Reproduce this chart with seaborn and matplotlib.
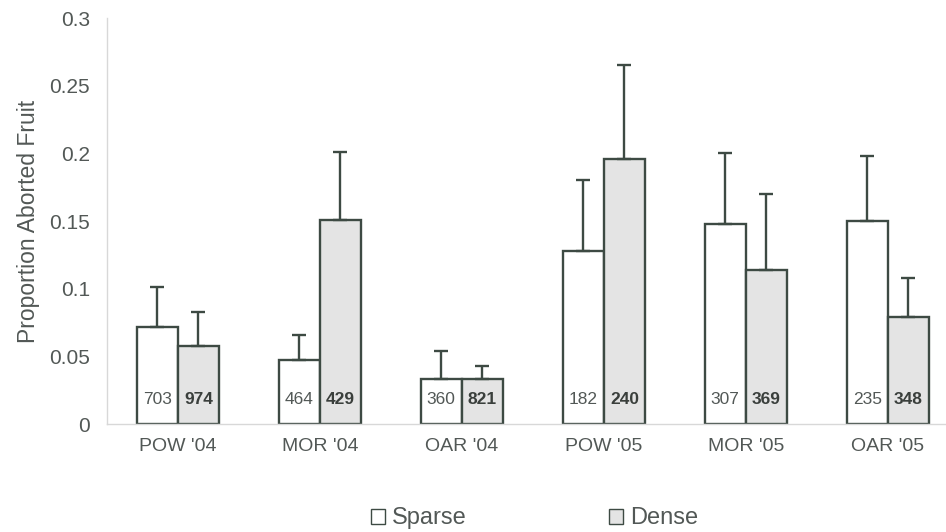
import numpy as np
import pandas as pd
import matplotlib
matplotlib.use("Agg")
import matplotlib.pyplot as plt
from matplotlib.patches import Patch
import seaborn as sns

# Site / year groups
categories = ["POW '04", "MOR '04", "OAR '04", "POW '05", "MOR '05", "OAR '05"]
groups = ["Sparse", "Dense"]

# Mean proportion of aborted fruit
sparse_mean = [0.072, 0.047, 0.033, 0.128, 0.148, 0.150]
dense_mean = [0.058, 0.151, 0.033, 0.196, 0.114, 0.079]

# Standard errors (drawn upward only)
sparse_se = [0.029, 0.019, 0.021, 0.052, 0.052, 0.048]
dense_se = [0.025, 0.050, 0.010, 0.069, 0.056, 0.029]

# Number of fruits per bar
sparse_n = [703, 464, 360, 182, 307, 235]
dense_n = [974, 429, 821, 240, 369, 348]

df = pd.DataFrame({
    "site": categories * 2,
    "density": ["Sparse"] * len(categories) + ["Dense"] * len(categories),
    "prop": sparse_mean + dense_mean,
})

sns.set_theme(style="white")
plt.rcParams["font.family"] = ["Liberation Sans", "DejaVu Sans"]

edge = "#3d4a43"
text_c = "#525856"
fills = {"Sparse": "#ffffff", "Dense": "#e4e4e4"}

fig = plt.figure(figsize=(9.46, 5.32), dpi=100)
ax = fig.add_axes([0.113, 0.203, 0.887, 0.763])

sns.barplot(data=df, x="site", y="prop", hue="density", hue_order=groups,
            order=categories, palette=fills, width=0.58, errorbar=None,
            edgecolor=edge, linewidth=1.7, ax=ax, legend=False)

ses = {"Sparse": sparse_se, "Dense": dense_se}
ns = {"Sparse": sparse_n, "Dense": dense_n}
means = {"Sparse": sparse_mean, "Dense": dense_mean}
for cont, g in zip(ax.containers, groups):
    xs = [b.get_x() + b.get_width() / 2 for b in cont]
    se = np.array(ses[g])
    ax.errorbar(xs, means[g], yerr=[np.zeros_like(se), se], fmt="none",
                ecolor=edge, elinewidth=1.7, capsize=5, capthick=1.7, zorder=1)
    for x, n in zip(xs, ns[g]):
        ax.text(x, 0.018, str(n), ha="center", va="center", fontsize=12.5,
                color="#3a3f3c" if g == "Dense" else text_c,
                fontweight="semibold" if g == "Dense" else "normal")

ax.set_ylim(0, 0.3)
ax.set_xlim(-0.5, 5.41)
ax.set_yticks([0, 0.05, 0.1, 0.15, 0.2, 0.25, 0.3])
ax.set_yticklabels(["0", "0.05", "0.1", "0.15", "0.2", "0.25", "0.3"])
ax.tick_params(axis="both", length=0, colors=text_c)
ax.tick_params(axis="y", pad=12, labelsize=15)
ax.tick_params(axis="x", pad=10, labelsize=14)
ax.set_xlabel("")
ax.set_ylabel("Proportion Aborted Fruit", fontsize=16.5, color=text_c, labelpad=7)

for s in ["top", "right"]:
    ax.spines[s].set_visible(False)
for s in ["left", "bottom"]:
    ax.spines[s].set_color("#d8d8d8")
    ax.spines[s].set_linewidth(1.0)

handles = [Patch(facecolor=fills[g], edgecolor=edge, linewidth=1.0, label=g) for g in groups]
fig.legend(handles=handles, loc="lower center", bbox_to_anchor=(0.565, -0.035), ncol=2,
           frameon=False, fontsize=17, handlelength=0.6, handleheight=0.6,
           handletextpad=0.3, columnspacing=6.0, labelcolor=text_c)

fig.savefig("out.png", dpi=100, facecolor="white")
